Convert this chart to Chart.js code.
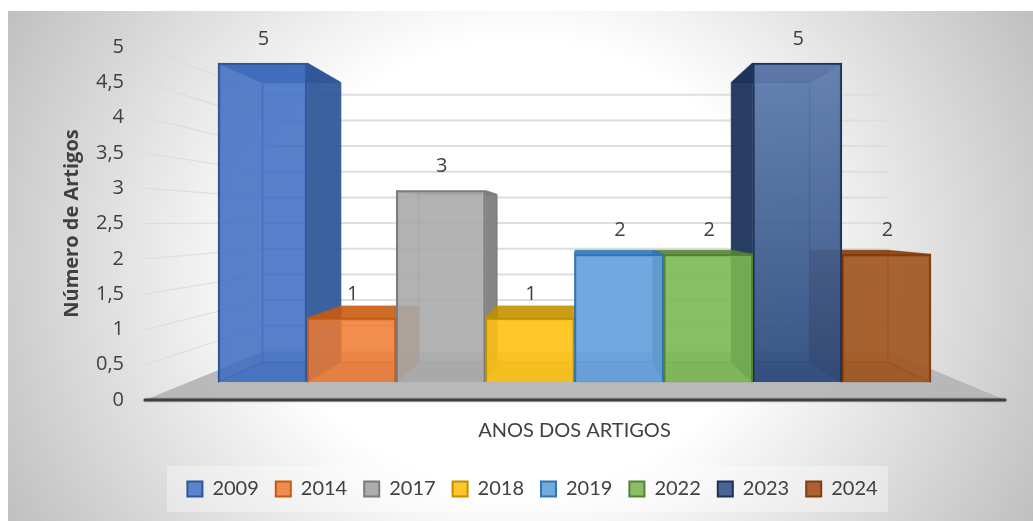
<!DOCTYPE html>
<html>
<head>
<meta charset="utf-8">
<style>
  html, body { margin: 0; padding: 0; background: #fff; }
  canvas { display: block; }
</style>
<script src="https://cdn.jsdelivr.net/npm/chart.js@4"></script>
</head>
<body>
<canvas id="chart3d" width="1033" height="521"></canvas>
<script>
// --- Data ---
const years = ['2009', '2014', '2017', '2018', '2019', '2022', '2023', '2024'];
const articleCounts = [5, 1, 3, 1, 2, 2, 5, 2];
const yTickLabels = ['0', '0,5', '1', '1,5', '2', '2,5', '3', '3,5', '4', '4,5', '5'];

// --- Colors ---
const frontColors = ['rgba(62,110,195,0.8)', 'rgba(238,125,55,0.8)', 'rgba(172,172,172,0.85)', 'rgba(255,194,20,0.85)',
    'rgba(100,160,220,0.85)', 'rgba(125,185,85,0.85)', 'rgba(50,85,140,0.8)', 'rgba(160,85,30,0.85)'];
const sideColors = ['#2f5597', '#c55a11', '#7b7b7b', '#bf9000', '#2e75b6', '#548235', '#1b3158', '#843c0c'];
const swatchColors = ['#5b84cc', '#f08c4e', '#adadad', '#fec628', '#74a9dd', '#8abf66', '#4a6593', '#ab6230'];
const textColor = '#404040';

// --- 3D look: vanishing point and depth of the scene ---
const vanishX = 580;
const vanishY = 222;
const wallDepth = 0.727;  // back wall size against the front edge of the floor
const barDepth = 0.123;   // how far a bar goes back towards the vanishing point
const paintOrder = [0, 1, 2, 3, 7, 6, 5, 4];

function toBack(x, y, k) {
    return [vanishX + (x - vanishX) * k, vanishY + (y - vanishY) * k];
}

function face(ctx, pts, fill, alpha) {
    ctx.globalAlpha = alpha;
    ctx.fillStyle = fill;
    ctx.beginPath();
    pts.forEach((p, i) => i ? ctx.lineTo(p[0], p[1]) : ctx.moveTo(p[0], p[1]));
    ctx.closePath();
    ctx.fill();
    ctx.globalAlpha = 1;
}

// the 2023 bar fades from a light blue at the top to a dark one at the bottom
function frontColor(c) {
    if (c.dataIndex !== 6 || !c.chart.chartArea) return frontColors[c.dataIndex];
    const y = c.chart.scales.y;
    const grad = c.chart.ctx.createLinearGradient(0, y.getPixelForValue(5), 0, y.getPixelForValue(0));
    grad.addColorStop(0, 'rgba(95,125,175,0.9)');
    grad.addColorStop(1, 'rgba(45,75,125,0.9)');
    return grad;
}

const scenePlugin = {
    id: 'scene3d',
    afterLayout(chart) {
        // legend sits around the whole panel, not around the plot
        chart.legend.left += 67;
        chart.legend.right += 67;
    },
    beforeDraw(chart) {
        const ctx = chart.ctx;
        ctx.save();
        ctx.fillStyle = '#fff';
        ctx.fillRect(0, 0, chart.width, chart.height);
        // panel background, white in the middle and grey in the corners
        ctx.beginPath();
        ctx.rect(8, 11, chart.width - 8, chart.height - 11);
        ctx.clip();
        ctx.translate(520, 265);
        ctx.scale(620, 560);
        const grad = ctx.createRadialGradient(0, 0, 0, 0, 0, 1);
        grad.addColorStop(0, '#ffffff');
        grad.addColorStop(0.4, '#ffffff');
        grad.addColorStop(1, '#b9b9b9');
        ctx.fillStyle = grad;
        ctx.fillRect(-2, -2, 4, 4);
        ctx.restore();
        // legend box
        ctx.fillStyle = 'rgba(255,255,255,0.35)';
        ctx.fillRect(167, 466, 721, 46);
    },
    beforeDatasetsDraw(chart) {
        const ctx = chart.ctx;
        const axis = chart.scales.yAxis;
        const leftX = 145, rightX = 1005;
        const floorY = axis.getPixelForValue(0);
        ctx.save();
        // floor
        face(ctx, [[leftX, floorY], [rightX, floorY], toBack(rightX, floorY, wallDepth), toBack(leftX, floorY, wallDepth)], '#b5b5b5', 0.95);
        // gridlines on the left wall and on the back wall
        axis.ticks.forEach(t => {
            const y = axis.getPixelForValue(t.value);
            const a = toBack(leftX, y, wallDepth);
            const b = toBack(rightX, y, wallDepth);
            if (t.value > 0) {
                ctx.strokeStyle = '#dcdcdc';
                ctx.lineWidth = 1;
                ctx.beginPath();
                ctx.moveTo(leftX, y);
                ctx.lineTo(a[0], a[1]);
                ctx.stroke();
                ctx.strokeStyle = '#dedede';
                ctx.lineWidth = 2;
                ctx.beginPath();
                ctx.moveTo(a[0], a[1]);
                ctx.lineTo(b[0], b[1]);
                ctx.stroke();
            }
        });
        // front edge of the floor
        ctx.strokeStyle = textColor;
        ctx.lineWidth = 3;
        ctx.lineCap = 'round';
        ctx.shadowColor = 'rgba(0,0,0,0.35)';
        ctx.shadowBlur = 2;
        ctx.beginPath();
        ctx.moveTo(leftX, floorY);
        ctx.lineTo(rightX, floorY);
        ctx.stroke();
        ctx.restore();
    },
    beforeDatasetDraw(chart, args) {
        const ctx = chart.ctx;
        const bars = args.meta.data;
        paintOrder.forEach(i => {
            const el = bars[i];
            const l = el.x - el.width / 2, r = el.x + el.width / 2;
            const t = el.y, b = el.base;
            const k = 1 - barDepth;
            const bl = toBack(l, b, k), br = toBack(r, b, k), tl = toBack(l, t, k), tr = toBack(r, t, k);
            const base = swatchColors[i], side = sideColors[i];
            // the side turned to the viewer is strong, the other one only shows through
            const leftAlpha = l > vanishX ? 0.9 : 0.3;
            const rightAlpha = r < vanishX ? 0.9 : 0.3;
            ctx.save();
            face(ctx, [bl, br, tr, tl], base, 0.45);
            face(ctx, [[l, b], [r, b], br, bl], side, 0.45);
            face(ctx, [[l, b], [l, t], tl, bl], side, leftAlpha);
            face(ctx, [[r, b], [r, t], tr, br], side, rightAlpha);
            face(ctx, [[l, t], [r, t], tr, tl], side, 0.85);
            // edges
            ctx.strokeStyle = side;
            ctx.globalAlpha = 0.7;
            ctx.lineWidth = 1.5;
            ctx.beginPath();
            [[[l, t], tl], [[r, t], tr], [[l, b], bl], [[r, b], br], [tl, tr], [tl, bl], [tr, br], [bl, br]].forEach(s => {
                ctx.moveTo(s[0][0], s[0][1]);
                ctx.lineTo(s[1][0], s[1][1]);
            });
            ctx.stroke();
            ctx.restore();
            el.draw(ctx);
        });
        // value labels
        ctx.save();
        ctx.fillStyle = textColor;
        ctx.font = '20px "Open Sans"';
        ctx.textAlign = 'center';
        ctx.textBaseline = 'middle';
        bars.forEach((el, i) => ctx.fillText(String(articleCounts[i]), el.x + 1, el.y - 24));
        ctx.restore();
        return false;
    }
};

new Chart(document.getElementById('chart3d').getContext('2d'), {
    type: 'bar',
    data: {
        labels: years,
        datasets: [{
            label: 'Número de Artigos',
            data: articleCounts,
            backgroundColor: frontColor,
            borderColor: sideColors,
            borderWidth: 2,
            barPercentage: 1,
            categoryPercentage: 1
        }]
    },
    plugins: [scenePlugin],
    options: {
        responsive: false,
        animation: false,
        layout: { padding: { top: 47, right: 102, bottom: 12 } },
        scales: {
            x: {
                grid: { display: false },
                border: { display: false },
                ticks: { display: false },
                title: {
                    display: true,
                    text: 'ANOS DOS ARTIGOS',
                    color: textColor,
                    font: { family: 'Lato', size: 20 },
                    padding: { top: 0, bottom: 19 }
                },
                afterFit(scale) { scale.height = 62; }
            },
            // the bars stand further back than the axis, so they get their own scale
            y: {
                display: false,
                min: -0.283,
                max: 5.252
            },
            yAxis: {
                axis: 'y',
                position: 'left',
                min: 0,
                max: 5,
                grid: { display: false },
                border: { display: false },
                ticks: {
                    stepSize: 0.5,
                    color: textColor,
                    padding: 86,
                    font: { family: 'Open Sans', size: 20 },
                    callback: (value, index) => yTickLabels[index]
                },
                title: {
                    display: true,
                    text: 'Número de Artigos',
                    color: textColor,
                    font: { family: 'Open Sans', size: 20, weight: 'bold' },
                    padding: { top: 60, bottom: 0 }
                },
                afterFit(scale) {
                    scale.width = 218;
                    // tick padding would otherwise push the plot down as well
                    scale.paddingTop = 0;
                    scale.paddingBottom = 0;
                }
            }
        },
        plugins: {
            title: { display: false },
            tooltip: { enabled: false },
            legend: {
                position: 'bottom',
                labels: {
                    color: textColor,
                    font: { family: 'Lato', size: 20 },
                    boxWidth: 15,
                    boxHeight: 15,
                    padding: 17,
                    generateLabels: () => years.map((y, i) => ({
                        text: y,
                        fillStyle: swatchColors[i],
                        strokeStyle: sideColors[i],
                        fontColor: textColor,
                        lineWidth: 2,
                        index: i
                    }))
                }
            }
        }
    }
});
</script>
</body>
</html>
